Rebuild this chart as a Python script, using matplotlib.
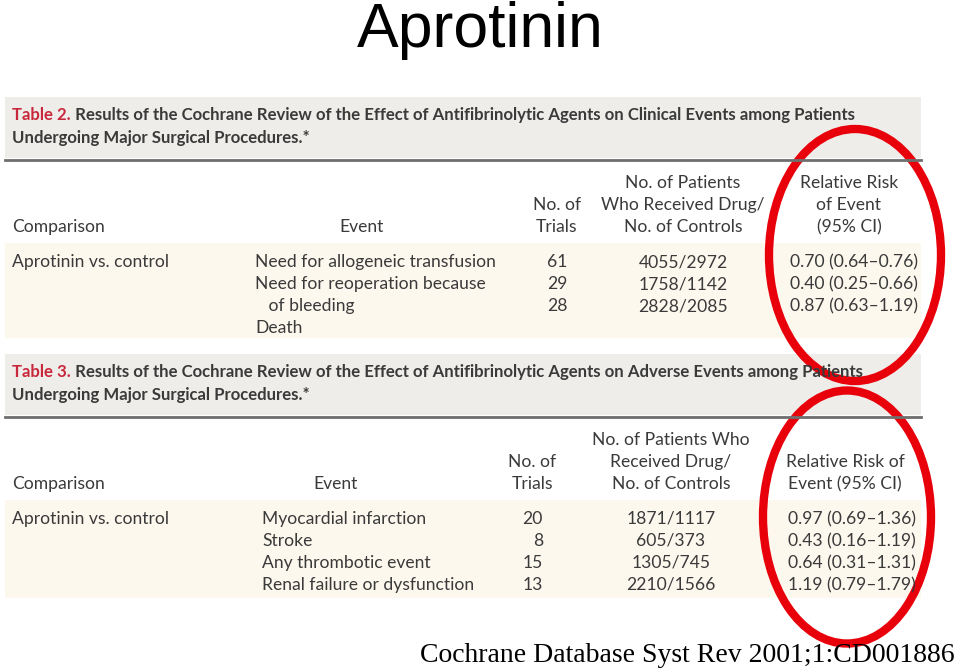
import matplotlib
matplotlib.use("Agg")
import matplotlib.pyplot as plt
from matplotlib.patches import Rectangle, Ellipse

# ---------------- data ----------------
slide_title = "Aprotinin"
source = "Cochrane Database Syst Rev 2001;1:CD001886"

t2_label = "Table 2."
t2_title = [" Results of the Cochrane Review of the Effect of Antifibrinolytic Agents on Clinical Events among Patients",
            "Undergoing Major Surgical Procedures.*"]
t2_comparison = "Aprotinin vs. control"
t2_events = ["Need for allogeneic transfusion", "Need for reoperation because", "   of bleeding", "Death"]
t2_trials = ["61", "29", "28", ""]
t2_patients = ["4055/2972", "1758/1142", "2828/2085", ""]
t2_rr = ["0.70 (0.64\u20130.76)", "0.40 (0.25\u20130.66)", "0.87 (0.63\u20131.19)", ""]
t2_hdr_trials = ["No. of", "Trials"]
t2_hdr_pat = ["No. of Patients", "Who Received Drug/", "No. of Controls"]
t2_hdr_rr = ["Relative Risk", "of Event", "(95% CI)"]

t3_label = "Table 3."
t3_title = [" Results of the Cochrane Review of the Effect of Antifibrinolytic Agents on Adverse Events among Patients",
            "Undergoing Major Surgical Procedures.*"]
t3_comparison = "Aprotinin vs. control"
t3_events = ["Myocardial infarction", "Stroke", "Any thrombotic event", "Renal failure or dysfunction"]
t3_trials = ["20", "8", "15", "13"]
t3_patients = ["1871/1117", "605/373", "1305/745", "2210/1566"]
t3_rr = ["0.97 (0.69\u20131.36)", "0.43 (0.16\u20131.19)", "0.64 (0.31\u20131.31)", "1.19 (0.79\u20131.79)"]
t3_hdr_trials = ["No. of", "Trials"]
t3_hdr_pat = ["No. of Patients Who", "Received Drug/", "No. of Controls"]
t3_hdr_rr = ["Relative Risk of", "Event (95% CI)"]

# ---------------- figure ----------------
W, H = 959, 671
fig = plt.figure(figsize=(W / 100, H / 100), dpi=100)
ax = fig.add_axes([0, 0, 1, 1])
ax.set_xlim(0, W)
ax.set_ylim(H, 0)
ax.axis("off")

TF = "Lato"
TXT = "#3a3a3a"
RED = "#c8283c"
HDRBG = "#efedea"
BAND = "#fdf8ee"
fs = 12.6
tfs = 12.1

ax.text(480, 31, slide_title, ha="center", va="center", fontsize=45,
        family="Liberation Sans", color="black")


def table(y0, label, title, comp, events, trials, pats, rr,
          hdr_tr, hdr_pat, hdr_rr, xev, xtr, tr_ha, xpat, xrr, xrrh, ev_hdr_x, band):
    # title box
    ax.add_patch(Rectangle((5, y0), 916, 61, facecolor=HDRBG, edgecolor="none"))
    ax.plot([5, 921], [y0 + 63, y0 + 63], color="#6e6e6e", lw=2)
    t = ax.text(12, y0 + 18, label, ha="left", va="center", fontsize=tfs,
                family=TF, fontweight="bold", color=RED)
    fig.canvas.draw()
    bb = t.get_window_extent()
    ax.text(12 + bb.width, y0 + 18, title[0], ha="left", va="center", fontsize=tfs,
            family=TF, fontweight="bold", color=TXT)
    ax.text(12, y0 + 41, title[1], ha="left", va="center", fontsize=tfs,
            family=TF, fontweight="bold", color=TXT)
    hb = y0 + 130  # header bottom line y
    ax.text(12, hb, "Comparison", ha="left", va="center", fontsize=fs, family=TF, color=TXT)
    ax.text(ev_hdr_x, hb, "Event", ha="center", va="center", fontsize=fs, family=TF, color=TXT)
    for i, s in enumerate(hdr_tr[::-1]):
        ax.text(xtr[1], hb - 22 * i, s, ha="center", va="center", fontsize=fs, family=TF, color=TXT)
    for i, s in enumerate(hdr_pat[::-1]):
        ax.text(xpat, hb - 22 * i, s, ha="center", va="center", fontsize=fs, family=TF, color=TXT)
    for i, s in enumerate(hdr_rr[::-1]):
        ax.text(xrrh, hb - 22 * i, s, ha="center", va="center", fontsize=fs, family=TF, color=TXT)
    # band
    ax.add_patch(Rectangle((5, band[0]), 916, band[1] - band[0], facecolor=BAND, edgecolor="none"))
    ry = band[0] + 19
    ax.text(12, ry, comp, ha="left", va="center", fontsize=fs, family=TF, color=TXT)
    for i in range(len(events)):
        y = ry + 22 * i
        ax.text(xev, y, events[i], ha="left", va="center", fontsize=fs, family=TF, color=TXT)
        ax.text(xtr[0], y, trials[i], ha=tr_ha, va="center", fontsize=fs, family=TF, color=TXT)
        ax.text(xpat, y, pats[i], ha="center", va="center", fontsize=fs, family=TF, color=TXT)
        ax.text(xrr, y, rr[i], ha="left", va="center", fontsize=fs, family=TF, color=TXT)


table(97, t2_label, t2_title, t2_comparison, t2_events, t2_trials, t2_patients, t2_rr,
      t2_hdr_trials, t2_hdr_pat, t2_hdr_rr, xev=255, xtr=(557, 557), tr_ha="center",
      xpat=683, xrr=790, xrrh=849, ev_hdr_x=362, band=(243, 338))
table(354, t3_label, t3_title, t3_comparison, t3_events, t3_trials, t3_patients, t3_rr,
      t3_hdr_trials, t3_hdr_pat, t3_hdr_rr, xev=262, xtr=(543, 532), tr_ha="right",
      xpat=671, xrr=788, xrrh=845, ev_hdr_x=336, band=(500, 598))

# red ellipses
ax.add_patch(Ellipse((855, 255), 172, 252, facecolor="none", edgecolor="#e8000b", lw=6))
ax.add_patch(Ellipse((847, 517), 168, 253, facecolor="none", edgecolor="#e8000b", lw=6))

ax.text(955, 655, source, ha="right", va="center", fontsize=20,
        family="Liberation Serif", color="black")

fig.savefig("out.png", dpi=100)
